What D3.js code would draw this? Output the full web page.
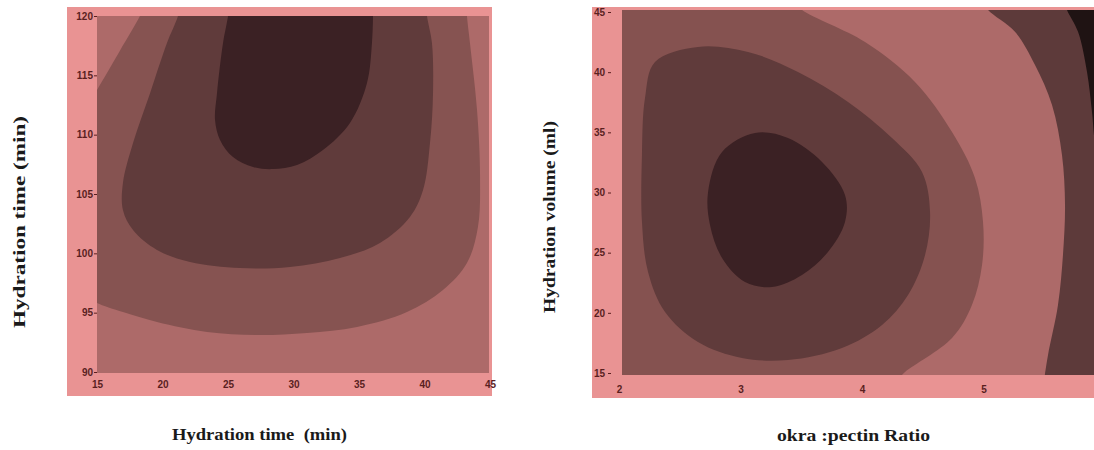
<!DOCTYPE html>
<html lang="en">
	<head>
		<meta charset="UTF-8" />
		<title>Contour plots</title>
		<script src="https://d3js.org/d3.v7.min.js"></script>
		<style>
			body {
				margin: 0;
				background: #fff;
			}
			.tick text {
				font-family: "Liberation Sans", Arial, sans-serif;
				font-weight: bold;
				font-size: 10px;
				fill: #5a1f1f;
			}
			.tick line {
				stroke: #5a1f1f;
			}
			.title {
				font-family: "Liberation Serif", "Times New Roman", serif;
				font-weight: bold;
				font-size: 16px;
				fill: #1a1a1a;
			}
		</style>
	</head>
	<body>
		<svg width="1094" height="450"></svg>

		<script>
			// tick labels
			const leftXTicks = [15, 20, 25, 30, 35, 40, 45];
			const leftYTicks = [90, 95, 100, 105, 110, 115, 120];
			const rightXTicks = [2, 3, 4, 5];
			const rightYTicks = [15, 20, 25, 30, 35, 40, 45];

			// left plot: contour boundaries (x = min, y = min)
			const leftBand2Top = [[18.6, 120.8], [18.28, 120], [16.76, 117.1], [15, 113.76], [14.5, 112.8]];
			const leftBand2Main = [
				[14.5, 96.2], [15, 95.81], [16.98, 95.05], [19.58, 94.21], [23.4, 93.37],
				[27.21, 93.12], [31.03, 93.29], [34.85, 93.79], [38.66, 95.05], [41.41, 96.91],
				[43.24, 99.18], [44.08, 102.22], [44.24, 106.43], [44.01, 112.07], [43.47, 117.72],
				[43.24, 120], [43.2, 120.8],
			];
			const leftBand3 = [
				[21.3, 120.8], [21.18, 120], [20.34, 117.72], [19.05, 113.5], [17.75, 109.29],
				[16.98, 105.92], [16.98, 103.65], [17.75, 101.96], [19.58, 100.28], [22.1, 99.27],
				[25.92, 98.76], [29.73, 98.85], [33.55, 99.6], [36.6, 100.87], [38.89, 103.06],
				[39.89, 105.33], [40.42, 109.29], [40.65, 113.5], [40.57, 117.72], [40.19, 120],
				[40.15, 120.8],
			];
			const leftBand4 = [
				[25.05, 120.8], [25.0, 120], [24.62, 117.72], [24.16, 113.5], [24.01, 111.23],
				[24.39, 109.55], [25.38, 108.11], [26.91, 107.27], [28.44, 107.1], [30.27, 107.44],
				[32.25, 108.7], [34.31, 110.98], [35.61, 114.35], [35.99, 117.72], [36.07, 120],
				[36.07, 120.8],
			];

			// right plot: contour boundaries (x = ratio, y = ml)
			const rightLight = [
				[3.45, 45.8], [3.506, 45.17], [4.025, 42.51], [4.436, 39.19], [4.741, 35.03],
				[4.93, 31.21], [4.996, 27.55], [4.988, 23.98], [4.905, 20.65], [4.741, 17.91],
				[4.354, 15.08], [4.3, 14.5],
			];
			const rightDark = [
				[5.0, 45.8], [5.037, 45.17], [5.259, 43.35], [5.424, 40.6], [5.564, 37.28],
				[5.646, 33.12], [5.671, 28.97], [5.654, 24.81], [5.613, 20.65], [5.531, 16.5],
				[5.5, 14.5],
			];
			const rightBlack = [
				[5.67, 45.8], [5.687, 45.17], [5.778, 43.35], [5.852, 40.02], [5.893, 36.7],
				[5.926, 33.5], [6.04, 29.4], [6.2, 27],
			];
			const rightCore1 = [
				[2.296, 40.85], [2.65, 42.1], [3.062, 41.68], [3.473, 40.02], [3.885, 37.53],
				[4.247, 34.53], [4.494, 31.71], [4.56, 28.38], [4.519, 24.81], [4.379, 21.48],
				[4.165, 18.99], [3.835, 17.08], [3.391, 16.08], [3.012, 16.25], [2.65, 17.58],
				[2.379, 20.07], [2.239, 23.4], [2.189, 27.55], [2.189, 33.12], [2.214, 37.86],
			];
			const rightCore0 = [
				[2.733, 30.05], [2.848, 33.37], [3.119, 34.95], [3.391, 34.53], [3.671, 32.54],
				[3.86, 29.8], [3.86, 27.55], [3.72, 25.06], [3.506, 23.15], [3.259, 22.15],
				[3.037, 22.56], [2.848, 24.56], [2.749, 27.3],
			];

			const svg = d3.select("svg");
			const frameColor = "#e99393";

			// scales
			const xL = d3.scaleLinear().domain([15, 45]).range([97, 490]);
			const yL = d3.scaleLinear().domain([90, 120]).range([372, 16]);
			const xR = d3.scaleLinear().domain([2, 6]).range([619, 1105]);
			const yR = d3.scaleLinear().domain([15, 45]).range([373, 12]);

			const curve = d3.line().curve(d3.curveCatmullRom.alpha(0.5));
			const closed = d3.line().curve(d3.curveCatmullRomClosed.alpha(0.5));

			// join several curved pieces with straight segments and close
			function ringPath(parts, sx, sy) {
				let d = "";
				parts.forEach((pts, i) => {
					const scaled = pts.map((p) => [sx(p[0]), sy(p[1])]);
					if (scaled.length === 1) {
						d += (i ? "L" : "M") + scaled[0][0] + "," + scaled[0][1];
						return;
					}
					const seg = curve(scaled);
					d += i ? "L" + seg.slice(1) : seg;
				});
				return d + "Z";
			}

			function blobPath(pts, sx, sy) {
				return closed(pts.map((p) => [sx(p[0]), sy(p[1])]));
			}

			// pink frames
			svg.append("rect").attr("x", 67).attr("y", 7).attr("width", 425).attr("height", 389).attr("fill", frameColor);
			svg.append("rect").attr("x", 592).attr("y", 7).attr("width", 510).attr("height", 391).attr("fill", frameColor);

			// clip regions
			const defs = svg.append("defs");
			defs.append("clipPath").attr("id", "clipL").append("rect")
				.attr("x", xL(15)).attr("y", yL(120)).attr("width", 392).attr("height", yL(90) - yL(120) + 1);
			defs.append("clipPath").attr("id", "clipR").append("rect")
				.attr("x", 622).attr("y", 10).attr("width", 472).attr("height", 365);

			// ---- left plot ----
			const gL = svg.append("g").attr("clip-path", "url(#clipL)");
			gL.append("rect").attr("x", 90).attr("y", 0).attr("width", 420).attr("height", 400).attr("fill", "#ad6a69");
			gL.append("path").attr("d", ringPath([leftBand2Top, leftBand2Main], xL, yL)).attr("fill", "#865351");
			gL.append("path").attr("d", ringPath([leftBand3], xL, yL)).attr("fill", "#603b3b");
			gL.append("path").attr("d", ringPath([leftBand4], xL, yL)).attr("fill", "#3b2124");

			svg.append("g")
				.attr("transform", "translate(97,0)")
				.call(d3.axisLeft(yL).tickValues(leftYTicks).tickSize(3).tickPadding(1))
				.call((g) => g.select(".domain").remove());
			svg.append("g")
				.attr("transform", "translate(0,373)")
				.call(d3.axisBottom(xL).tickValues(leftXTicks).tickSize(0).tickPadding(8))
				.call((g) => g.select(".domain").remove());

			// ---- right plot ----
			const gR = svg.append("g").attr("clip-path", "url(#clipR)");
			gR.append("rect").attr("x", 600).attr("y", 0).attr("width", 520).attr("height", 400).attr("fill", "#855250");
			gR.append("path").attr("d", ringPath([rightLight, [[6.5, 14.5]], [[6.5, 45.8]]], xR, yR)).attr("fill", "#ad6a69");
			gR.append("path").attr("d", ringPath([rightDark, [[6.5, 14.5]], [[6.5, 45.8]]], xR, yR)).attr("fill", "#5d3a3a");
			gR.append("path").attr("d", ringPath([rightBlack, [[6.5, 27]], [[6.5, 45.8]]], xR, yR)).attr("fill", "#1f1313");
			gR.append("path").attr("d", blobPath(rightCore1, xR, yR)).attr("fill", "#603b3b");
			gR.append("path").attr("d", blobPath(rightCore0, xR, yR)).attr("fill", "#3b2124");

			svg.append("g")
				.attr("transform", "translate(611,0)")
				.call(d3.axisLeft(yR).tickValues(rightYTicks).tickSize(3).tickPadding(3))
				.call((g) => g.select(".domain").remove());
			svg.append("g")
				.attr("transform", "translate(0,375)")
				.call(d3.axisBottom(xR).tickValues(rightXTicks).tickFormat(d3.format("d")).tickSize(0).tickPadding(11))
				.call((g) => g.select(".domain").remove());

			// axis titles
			svg.append("text").attr("class", "title")
				.attr("transform", "translate(25,222) rotate(-90)")
				.attr("text-anchor", "middle")
				.attr("textLength", 212).attr("lengthAdjust", "spacingAndGlyphs")
				.text("Hydration time (min)");
			svg.append("text").attr("class", "title")
				.attr("x", 172).attr("y", 440)
				.attr("textLength", 175).attr("lengthAdjust", "spacingAndGlyphs")
				.attr("xml:space", "preserve")
				.text("Hydration time  (min)");
			svg.append("text").attr("class", "title")
				.attr("transform", "translate(555,217) rotate(-90)")
				.attr("text-anchor", "middle")
				.attr("textLength", 192).attr("lengthAdjust", "spacingAndGlyphs")
				.text("Hydration volume (ml)");
			svg.append("text").attr("class", "title")
				.attr("x", 777).attr("y", 441)
				.attr("textLength", 153).attr("lengthAdjust", "spacingAndGlyphs")
				.text("okra :pectin Ratio");
		</script>
	</body>
</html>
